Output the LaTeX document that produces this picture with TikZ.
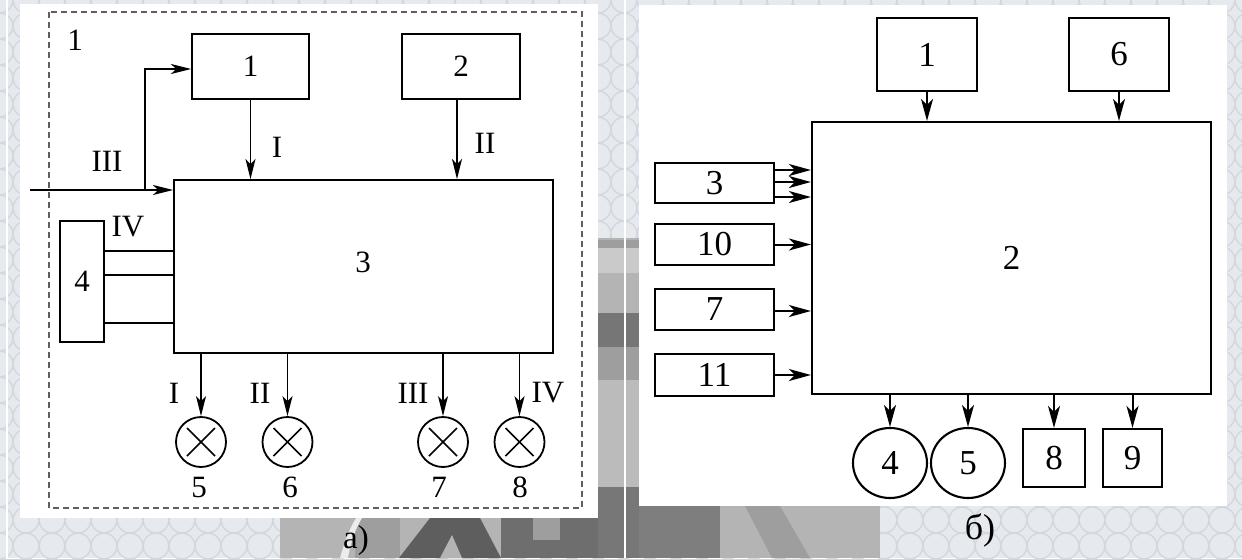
\documentclass[tikz,border=0pt]{standalone}
\usepackage{fontspec}
\setmainfont{Liberation Serif}
\usetikzlibrary{arrows.meta,shapes.geometric,calc}
\definecolor{bgbase}{HTML}{E6E9ED}
\definecolor{bgring}{HTML}{D3D8DE}
\definecolor{dashgrey}{HTML}{5E5E5E}
\definecolor{photoA}{HTML}{9E9E9E}
\definecolor{photoB}{HTML}{5E5E5E}
\definecolor{photoC}{HTML}{B4B4B4}
\definecolor{photoD}{HTML}{CACACA}
\newcommand\lfsize{\fontsize{31}{32}\selectfont}
\newcommand\rfsize{\fontsize{35}{36}\selectfont}

\begin{document}
\begin{tikzpicture}[x=1pt,y=-1pt,
  lbox/.style={draw,line width=1.9pt,inner sep=0pt,font=\lfsize},
  rbox/.style={draw,line width=2.2pt,inner sep=0pt,font=\rfsize},
  lamp/.style={draw,circle,line width=1.8pt,minimum size=50,inner sep=0pt},
  rcirc/.style={draw,ellipse,line width=2.1pt,minimum width=74,minimum height=70,inner sep=0pt,font=\rfsize},
  ltext/.style={inner sep=0pt,font=\lfsize},
  arr/.style={line width=1.8pt,-{Stealth[length=20pt,width=10pt,inset=5pt]}},
  rarr/.style={line width=2pt,-{Stealth[length=22pt,width=12pt,inset=6pt]}},
  wire/.style={line width=1.8pt},
  cross/.style={line width=1.5pt}
]
\useasboundingbox (0,0) rectangle (1242,558);

% ---------- backdrop: ring lattice and photo strip ----------
\fill[bgbase] (0,0) rectangle (1242,558);
\begin{scope}
  \clip (0,0) rectangle (1242,558);
  \foreach \i in {0,...,48}{
    \foreach \j in {0,...,22}{
      \draw[bgring,line width=1.4pt] (\i*26,\j*26) circle[radius=13];
    }
  }
  % photo behind the panels
  \fill[photoC] (280,238) rectangle (880,558);
  \fill[photoA] (598,240) rectangle (639,248);
  \fill[photoD] (598,248) rectangle (639,273);
  \fill[photoC] (598,273) rectangle (639,313);
  \fill[photoB!85!white] (598,313) rectangle (639,347);
  \fill[photoA] (598,347) rectangle (639,380);
  \fill[photoC!90!white] (598,380) rectangle (639,487);
  \fill[photoA!75!black] (598,487) rectangle (639,558);
  % lower strip: lettering and cars
  \fill[photoA] (355,518) rectangle (400,558);
  \fill[white!85!gray] (340,558) .. controls (345,540) and (350,528) .. (356,518) -- (362,518) .. controls (356,528) and (351,540) .. (348,558) -- cycle;
  \fill[photoB] (399,558) -- (430,518) -- (480,518) -- (501,558) -- cycle;
  \fill[photoC] (440,558) -- (452,535) -- (462,558) -- cycle;
  \fill[photoB!90!white] (501,518) rectangle (598,558);
  \fill[photoA] (533,518) rectangle (560,540);
  \fill[photoA!80!black] (639,506) rectangle (720,558);
  \fill[photoC] (720,506) rectangle (880,558);
  \fill[photoA] (745,506) -- (780,506) -- (810,558) -- (772,558) -- cycle;
  \draw[white,line width=2pt] (625,0) -- (625,558);
  \draw[white,line width=1.5pt] (7,0) -- (7,558);
\end{scope}

% ---------- panel a) ----------
\fill[white] (20,4) rectangle (598,518);
\draw[dashgrey,line width=1.4pt,dash pattern=on 6pt off 4pt] (49,12) rectangle (582,508);

\node[ltext] (t1) at (75,40) {1};
\node[lbox,minimum width=117,minimum height=65] (L1) at (250.5,66.5) {1};
\node[lbox,minimum width=118,minimum height=65] (L2) at (461,66.5) {2};
\node[lbox,minimum width=379,minimum height=173] (L3) at (363.5,266.5) {};
\node[ltext] (L3t) at (363,262) {3};
\node[lbox,minimum width=44,minimum height=121] (L4) at (82,281.5) {4};

% inputs I and II
\draw[arr] (L1.south) -- (L1.south |- L3.north);
\draw[arr] ([xshift=-4pt]L2.south) -- ([xshift=-4pt]L2.south |- L3.north);
\node[ltext] (rI) at (277,147) {I};
\node[ltext] (rII) at (485,143) {II};

% input III with branch to block 1
\coordinate (inIII) at (30,190);
\coordinate (br) at (145,190);
\draw[arr] (inIII) -- (inIII -| L3.west);
\draw[arr] (br) |- ([yshift=-2.5pt]L1.west);
\node[ltext] (rIII) at (107,161) {III};

% block 4 links (IV)
\foreach \yy in {251,275,323}{
  \draw[wire] (L4.east |- 0,\yy) -- (L3.west |- 0,\yy);
}
\node[ltext] (rIV) at (128,227) {IV};

% output lamps
\node[lamp] (L5) at (201,442) {};
\node[lamp] (L6) at (287.5,442) {};
\node[lamp] (L7) at (443,442) {};
\node[lamp] (L8) at (519.5,442) {};
\foreach \n in {L5,L6,L7,L8}{
  \draw[cross] ([shift={(-14,-14)}]\n.center) -- ([shift={(14,14)}]\n.center);
  \draw[cross] ([shift={(-14,14)}]\n.center) -- ([shift={(14,-14)}]\n.center);
  \draw[arr] (\n.north |- L3.south) -- (\n.north);
}
\node[ltext] (bI) at (174,393) {I};
\node[ltext] (bII) at (260,393) {II};
\node[ltext] (bIII) at (413,393) {III};
\node[ltext] (bIV) at (548,393) {IV};
\node[ltext] (n5) at (199,487) {5};
\node[ltext] (n6) at (290,487) {6};
\node[ltext] (n7) at (439,487) {7};
\node[ltext] (n8) at (520,487) {8};

\node[inner sep=0pt,font=\fontsize{33}{34}\selectfont] (capA) at (356,541) {а)};

% ---------- panel б) ----------
\fill[white] (639,5) rectangle (1227,506);

\node[rbox,minimum width=100,minimum height=73] (R1) at (927,54.5) {1};
\node[rbox,minimum width=100,minimum height=73] (R6) at (1119,54.5) {6};
\node[rbox,minimum width=399,minimum height=272] (R2) at (1011.5,258) {2};
\node[rbox,minimum width=119,minimum height=40] (R3) at (714.5,183) {3};
\node[rbox,minimum width=119,minimum height=41] (R10) at (714.5,244.5) {10};
\node[rbox,minimum width=119,minimum height=41] (R7) at (714.5,309.5) {7};
\node[rbox,minimum width=119,minimum height=42] (R11) at (714.5,375) {11};

\draw[rarr] (R1.south) -- (R1.south |- R2.north);
\draw[rarr] (R6.south) -- (R6.south |- R2.north);
\foreach \yy in {170,182,197}{
  \draw[rarr] (R3.east |- 0,\yy) -- (R2.west |- 0,\yy);
}
\draw[rarr] (R10.east) -- (R10.east -| R2.west);
\draw[rarr] ([yshift=-1.5pt]R7.east) -- ([yshift=-1.5pt]R7.east -| R2.west);
\draw[rarr] (R11.east) -- (R11.east -| R2.west);

\node[rcirc] (R4) at (890,463) {4};
\node[rcirc] (R5) at (968,463) {5};
\node[rbox,minimum width=62,minimum height=58] (R8) at (1054,458) {8};
\node[rbox,minimum width=59,minimum height=58] (R9) at (1132.5,458) {9};
\foreach \n in {R4,R5,R8,R9}{
  \draw[rarr] (\n.north |- R2.south) -- (\n.north);
}

\node[inner sep=0pt,font=\fontsize{36}{37}\selectfont] (capB) at (980,530) {б)};
\end{tikzpicture}
\end{document}
